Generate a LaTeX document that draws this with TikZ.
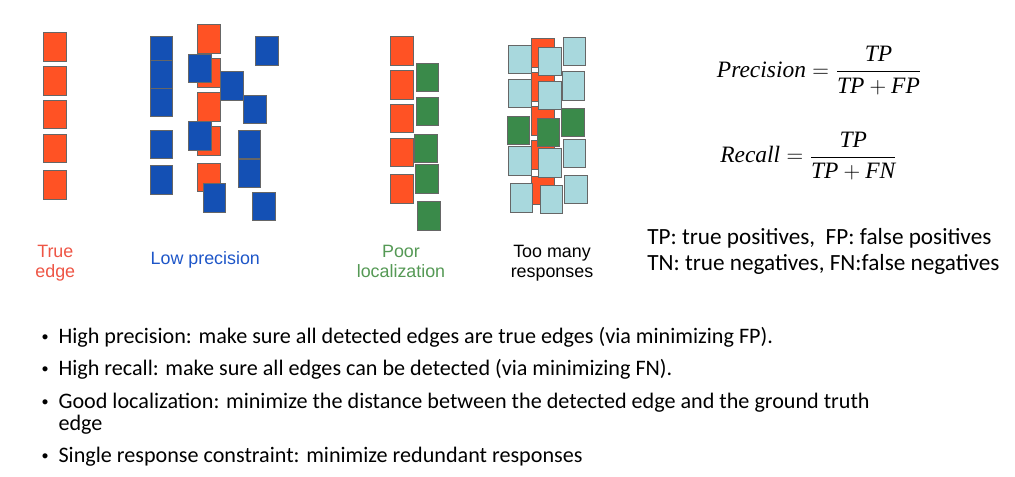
\documentclass[tikz,border=0pt]{standalone}
\usepackage[no-math]{fontspec}
\usepackage{amsmath}
\setmainfont{Carlito}
\newfontfamily\labelfont{Liberation Sans}
\newfontfamily\formfont{Liberation Serif}
\usetikzlibrary{positioning}

\newcommand{\fvar}[1]{\text{\formfont\itshape #1}}

\definecolor{edgered}{RGB}{255,82,36}
\definecolor{lowblue}{RGB}{20,80,180}
\definecolor{locgreen}{RGB}{58,138,74}
\definecolor{manyblue}{RGB}{168,216,221}
\definecolor{redlabel}{RGB}{238,85,69}
\definecolor{bluelabel}{RGB}{30,86,200}
\definecolor{greenlabel}{RGB}{85,153,85}

\tikzset{
  tile/.style={draw=black!60, line width=0.5pt, minimum width=16.9pt,
    minimum height=21.4pt, inner sep=0pt},
  truetile/.style={tile, fill=edgered},
  lowtile/.style={tile, fill=lowblue},
  loctile/.style={tile, fill=locgreen},
  manytile/.style={tile, fill=manyblue},
  caption/.style={inner sep=0pt, align=center,
    font=\labelfont\fontsize{13.4}{14.8}\selectfont},
  itemtext/.style={inner sep=0pt, anchor=base west,
    font=\fontsize{16.6}{19}\selectfont},
  legendtext/.style={inner sep=0pt, anchor=base west,
    font=\fontsize{17.4}{20}\selectfont},
  formula/.style={inner sep=0pt, anchor=west,
    font=\fontsize{17.6}{21}\selectfont},
  dot/.style={inner sep=0pt, anchor=base west,
    font=\labelfont\fontsize{14}{16}\selectfont},
}

\begin{document}
\begin{tikzpicture}[x=0.75pt,y=-0.75pt]
  \useasboundingbox (0,0) rectangle (1015,477);

  % true edge
  \foreach \y [count=\i] in {46.7,80.7,114.5,148.3,184.7}
    \node[truetile] (te\i) at (55,\y) {};

  % low precision
  \foreach \y [count=\i] in {39,72.8,106.8,140.8,177.2}
    \node[truetile] (lpt\i) at (208.7,\y) {};
  \foreach \y [count=\i] in {51,74.2,102.5,144.3,179.7}
    \node[lowtile] (lpa\i) at (161.3,\y) {};
  \foreach \x/\y [count=\i] in {199.8/68.3,231.7/85.8,255/109.5,199.7/135.8,
      249.2/144.3,249.2/173.2,214.2/197.7,263.8/206.5,266.7/50.8}
    \node[lowtile] (lpb\i) at (\x,\y) {};

  % poor localization
  \foreach \y [count=\i] in {50.8,84.8,118.5,152.5,188.8}
    \node[truetile] (plt\i) at (401.7,\y) {};
  \foreach \x/\y [count=\i] in {427.2/77.5,427.2/111.5,425.8/148.5,
      427/178.8,428.8/216}
    \node[loctile] (plg\i) at (\x,\y) {};

  % too many responses
  \foreach \y [count=\i] in {52.6,86.6,121,155,190.3}
    \node[truetile] (tmt\i) at (542.7,\y) {};
  \node[manytile] (tml1) at (519.8,59.2) {};
  \node[manytile] (tml2) at (519.8,93.2) {};
  \node[loctile]  (tml3) at (518.3,130.2) {};
  \node[manytile] (tml4) at (519.8,160.8) {};
  \node[manytile] (tml5) at (521.2,197.8) {};
  \node[manytile] (tmm1) at (550,61.2) {};
  \node[manytile] (tmm2) at (550,95.5) {};
  \node[loctile]  (tmm3) at (548.3,132.5) {};
  \node[manytile] (tmm4) at (550,162.8) {};
  \node[manytile] (tmm5) at (551.2,199.5) {};
  \node[manytile] (tmr1) at (574.2,51.5) {};
  \node[manytile] (tmr2) at (573.3,85.8) {};
  \node[loctile]  (tmr3) at (572.8,122.5) {};
  \node[manytile] (tmr4) at (574.2,153.2) {};
  \node[manytile] (tmr5) at (575.8,189.2) {};

  % captions
  \node[caption, anchor=north, text=redlabel] (captrue) at (55.3,245) {True\\edge};
  \node[caption, anchor=base, text=bluelabel] (caplow) at (205.3,264.3) {Low precision};
  \node[caption, anchor=north, text=greenlabel] (caploc) at (401,245) {Poor\\localization};
  \node[caption, anchor=north] (capmany) at (552,245) {Too many\\responses};

  % formulas
  \node[formula] (prec) at (716.7,70.7)
    {$\fvar{Precision} = \dfrac{\fvar{TP}}{\fvar{TP} + \fvar{FP}}$};
  \node[formula] (rec) at (720,156)
    {$\fvar{Recall} = \dfrac{\fvar{TP}}{\fvar{TP} + \fvar{FN}}$};

  \node[legendtext] (legtp) at (647,245) {TP: true positives,\ \ FP: false positives};
  \node[legendtext] (legtn) at (647,270.7) {TN: true negatives, FN:false negatives};

  % bullet points
  \foreach \y [count=\i] in {344,375.7,408.5,463}
    \node[dot] (dot\i) at (41.5,\y) {•};
  \node[itemtext] (item1) at (58.3,344)
    {High precision: make sure all detected edges are true edges (via minimizing FP).};
  \node[itemtext] (item2) at (58.3,375.7)
    {High recall: make sure all edges can be detected (via minimizing FN).};
  \node[itemtext] (item3) at (58.3,408.5)
    {Good localization: minimize the distance between the detected edge and the ground truth};
  \node[itemtext] (item3b) at (58.3,430.5) {edge};
  \node[itemtext] (item4) at (58.3,463)
    {Single response constraint: minimize redundant responses};
\end{tikzpicture}
\end{document}
